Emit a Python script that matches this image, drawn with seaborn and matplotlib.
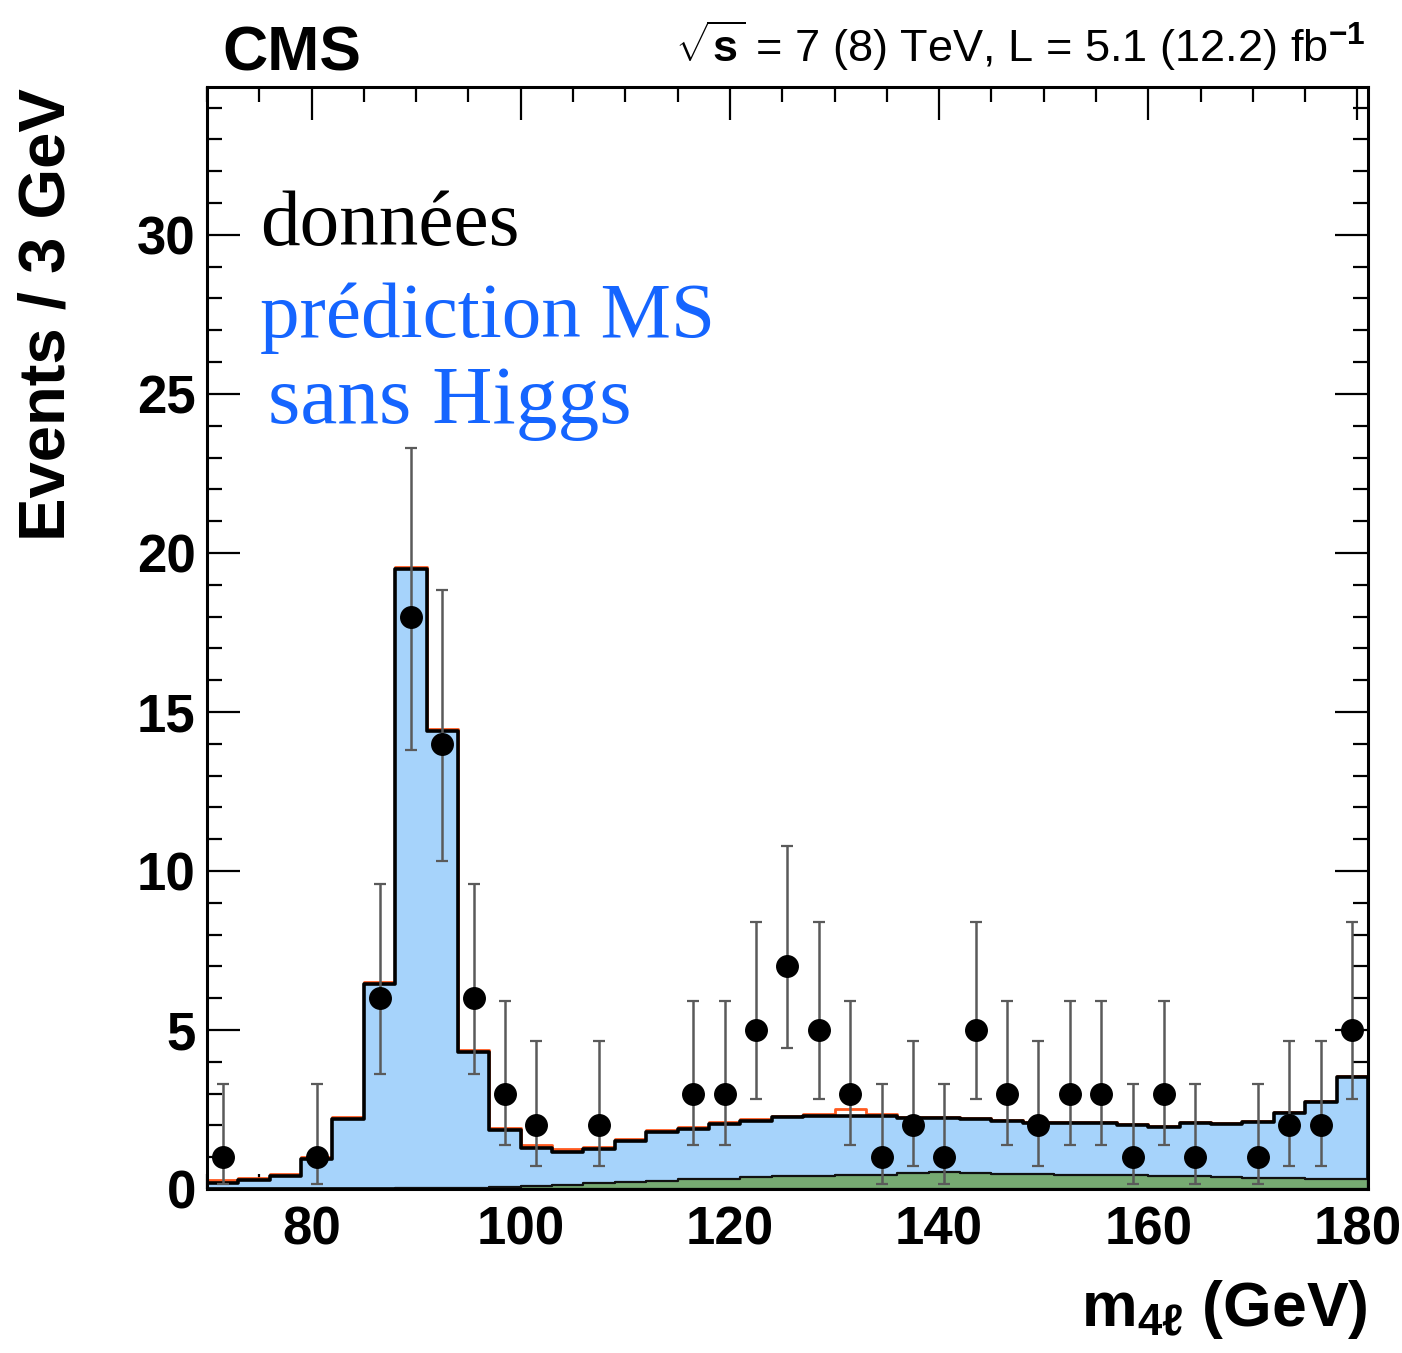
import pandas as pd
import matplotlib
matplotlib.use("Agg")
import matplotlib.pyplot as plt
from matplotlib.ticker import MultipleLocator
import seaborn as sns

# ---------------------------------------
# DATA
# ---------------------------------------

bin_edges = list(range(70, 182, 3))
bin_centers = [e + 1.5 for e in bin_edges[:-1]]

# total SM prediction without Higgs (ZZ + Z+X), per 3 GeV bin
pred_total = [0.20, 0.27, 0.41, 0.94, 2.20, 6.45, 19.50, 14.40, 4.30, 1.85,
              1.30, 1.17, 1.25, 1.50, 1.80, 1.88, 2.04, 2.13, 2.25, 2.29,
              2.29, 2.29, 2.22, 2.22, 2.20, 2.13, 2.07, 2.07, 2.07, 2.02,
              1.95, 2.07, 2.04, 2.10, 2.39, 2.73, 3.53]

# reducible background (green)
pred_zx = [0.00, 0.00, 0.00, 0.00, 0.00, 0.01, 0.02, 0.02, 0.03, 0.05,
           0.08, 0.12, 0.18, 0.22, 0.26, 0.30, 0.33, 0.37, 0.40, 0.42,
           0.44, 0.45, 0.50, 0.52, 0.50, 0.48, 0.47, 0.45, 0.45, 0.43,
           0.42, 0.40, 0.38, 0.36, 0.35, 0.33, 0.30]

# leftover of the (removed) signal outline, on top of the prediction
signal_left = [0.07, 0.07, 0.07, 0.07, 0.07, 0.07, 0.07, 0.07, 0.07, 0.07,
               0.08, 0.08, 0.08, 0.07, 0.07, 0.06, 0.06, 0.06, 0.06, 0.06,
               0.23, 0.07, 0.04, 0.04, 0.03, 0.03, 0.03, 0.03, 0.03, 0.03,
               0.03, 0.03, 0.03, 0.03, 0.03, 0.03, 0.03]

# observed data
data_x = [71.5, 80.5, 86.5, 89.5, 92.5, 95.5, 98.5, 101.5, 107.5, 116.5,
          119.5, 122.5, 125.5, 128.5, 131.5, 134.5, 137.5, 140.5, 143.5, 146.5,
          149.5, 152.5, 155.5, 158.5, 161.5, 164.5, 170.5, 173.5, 176.5, 179.5]
data_n = [1, 1, 6, 18, 14, 6, 3, 2, 2, 3,
          3, 5, 7, 5, 3, 1, 2, 1, 5, 3,
          2, 3, 3, 1, 3, 1, 1, 2, 2, 5]
err_lo = [0.83, 0.83, 2.38, 4.21, 3.70, 2.38, 1.63, 1.29, 1.29, 1.63,
          1.63, 2.16, 2.58, 2.16, 1.63, 0.83, 1.29, 0.83, 2.16, 1.63,
          1.29, 1.63, 1.63, 0.83, 1.63, 0.83, 0.83, 1.29, 1.29, 2.16]
err_hi = [2.30, 2.30, 3.58, 5.30, 4.83, 3.58, 2.92, 2.64, 2.64, 2.92,
          2.92, 3.38, 3.77, 3.38, 2.92, 2.30, 2.64, 2.30, 3.38, 2.92,
          2.64, 2.92, 2.92, 2.30, 2.92, 2.30, 2.30, 2.64, 2.64, 3.38]

hist_df = pd.DataFrame({
    "m4l": bin_centers,
    "total": pred_total,
    "zx": pred_zx,
    "sig": [t + s for t, s in zip(pred_total, signal_left)],
})

# ---------------------------------------
# STYLE
# ---------------------------------------

sns.set_style("ticks")
plt.rcParams["font.family"] = ["Liberation Sans", "DejaVu Sans"]
plt.rcParams["font.weight"] = "bold"
plt.rcParams["text.color"] = "black"
plt.rcParams["xtick.color"] = "black"
plt.rcParams["ytick.color"] = "black"
plt.rcParams["axes.edgecolor"] = "black"
plt.rcParams["mathtext.fontset"] = "custom"
plt.rcParams["mathtext.rm"] = "Liberation Sans"
plt.rcParams["mathtext.it"] = "Liberation Sans:italic"
plt.rcParams["mathtext.bf"] = "Liberation Sans:bold"

fig = plt.figure(figsize=(14.02, 13.53), dpi=100)
ax = fig.add_axes([0.1476, 0.1212, 0.8281, 0.8145])

# ---------------------------------------
# HISTOGRAMS
# ---------------------------------------

sns.histplot(data=hist_df, x="m4l", weights="sig", bins=bin_edges, element="step",
             fill=False, color="#ff5a1f", linewidth=2.0, ax=ax, zorder=1)
sns.histplot(data=hist_df, x="m4l", weights="total", bins=bin_edges, element="step",
             fill=True, color="#a6d3fb", alpha=1, edgecolor="black",
             linewidth=2.6, ax=ax, zorder=2)
sns.histplot(data=hist_df, x="m4l", weights="zx", bins=bin_edges, element="step",
             fill=True, color="#76aa72", alpha=1, edgecolor="#111111",
             linewidth=1.6, ax=ax, zorder=3)

ax.errorbar(data_x, data_n, yerr=[err_lo, err_hi], fmt="o", color="black",
            markersize=15.5, ecolor="#5a5a5a", elinewidth=1.8, capsize=4,
            capthick=1.6, zorder=5)

# ---------------------------------------
# AXES
# ---------------------------------------

ax.set_xlim(70, 181)
ax.set_ylim(0, 34.65)
ax.set_xlabel("")
ax.set_ylabel("")
ax.xaxis.set_major_locator(MultipleLocator(20))
ax.xaxis.set_minor_locator(MultipleLocator(5))
ax.yaxis.set_major_locator(MultipleLocator(5))
ax.yaxis.set_minor_locator(MultipleLocator(1))
ax.tick_params(which="both", direction="in", top=True, right=True, width=1.6,
               labelsize=38, colors="black")
ax.tick_params(which="major", length=24)
ax.tick_params(which="minor", length=11)
ax.tick_params(axis="x", pad=12)
ax.tick_params(axis="y", pad=8)
for lab in ax.get_xticklabels() + ax.get_yticklabels():
    lab.set_fontweight("bold")
for sp in ax.spines.values():
    sp.set_linewidth(2.2)
    sp.set_zorder(7)

# ---------------------------------------
# TEXT
# ---------------------------------------

fig.text(0.1583, 0.948, "CMS", fontsize=45, fontweight="bold", ha="left", va="baseline")
fig.text(0.9736, 0.954, r"$\sqrt{\mathrm{s}}$ = 7 (8) TeV, L = 5.1 (12.2) fb$^{-1}$",
         fontsize=32.5, fontweight="normal", ha="right", va="baseline")
fig.text(0.034, 0.935, "Events / 3 GeV", fontsize=47, fontweight="bold",
         rotation=90, ha="center", va="top")
fig.text(0.9757, 0.02, r"m$_{\mathbf{4\ell}}$ (GeV)", fontsize=45, fontweight="bold",
         ha="right", va="baseline")


def px_to_axes(px, py):
    x0, x1 = 207, 1368
    y0, y1 = 1189, 87
    return (px - x0) / (x1 - x0), (y0 - py) / (y0 - y1)


serif = ["Liberation Serif", "DejaVu Serif"]
for txt, (px, py), col, fs in [("données", (260, 245), "black", 57),
                               ("prédiction MS", (260, 337), "#1565ff", 57),
                               ("sans Higgs", (268, 423), "#1565ff", 60)]:
    tx, ty = px_to_axes(px, py)
    ax.text(tx, ty, txt, transform=ax.transAxes, family=serif, fontsize=fs,
            fontweight="normal", color=col, ha="left", va="baseline", zorder=8)

plt.savefig("out.png", dpi=100)
